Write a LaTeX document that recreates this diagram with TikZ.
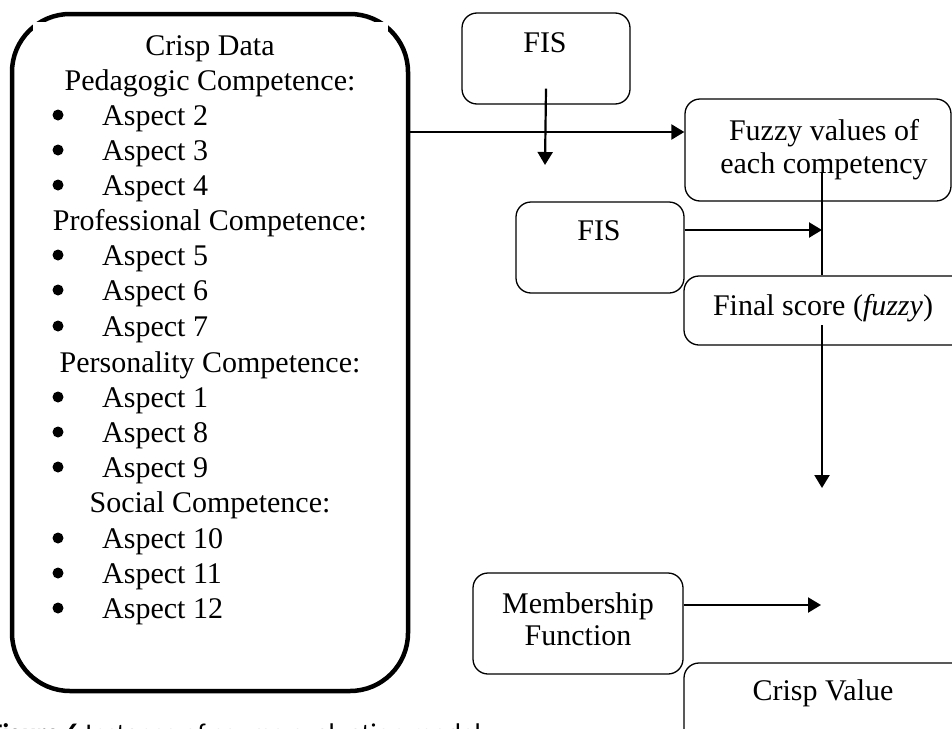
\documentclass[tikz,border=0pt]{standalone}
\usepackage{fontspec}
\setmainfont{Liberation Serif}
\newfontfamily\capfont{Carlito}
\usetikzlibrary{arrows.meta,fit,calc}
\tikzset{
  rbox/.style={draw, line width=1.3pt, rounded corners=15pt, inner sep=0pt},
  bigbox/.style={draw, line width=4.5pt, rounded corners=58pt, inner sep=0pt},
  txt/.style={anchor=base, inner sep=0pt, font=\fontsize{30pt}{35pt}\selectfont},
  bul/.style={circle, fill, inner sep=0pt, minimum size=11pt},
  asp/.style={anchor=base west, inner sep=0pt, font=\fontsize{30pt}{35pt}\selectfont},
  arr/.style={line width=2.2pt, -{Triangle[length=13pt,width=15pt]}},
  ln/.style={line width=2.2pt}
}
\begin{document}
\begin{tikzpicture}[x=1pt,y=-1pt]
\useasboundingbox (0,0) rectangle (952,728);
\begin{scope}
\clip (0,0) rectangle (952,728);
% big box
\node[bigbox, fit={(12,14) (408,691)}] (crisp) {};
\fill[white] (33,22) rectangle (388,40);
% left text
\node[txt] (t1) at (210,55) {Crisp Data};
\node[txt] (t2) at (210,90) {Pedagogic Competence:};
\node[bul] (b2) at (58,115) {};  \node[asp] (a2) at (102,125) {Aspect 2};
\node[bul] (b3) at (58,150) {};  \node[asp] (a3) at (102,160) {Aspect 3};
\node[bul] (b4) at (58,185) {};  \node[asp] (a4) at (102,195) {Aspect 4};
\node[txt] (t3) at (210,230) {Professional Competence:};
\node[bul] (b5) at (58,255) {};  \node[asp] (a5) at (102,265) {Aspect 5};
\node[bul] (b6) at (58,290) {};  \node[asp] (a6) at (102,300) {Aspect 6};
\node[bul] (b7) at (58,326) {};  \node[asp] (a7) at (102,336) {Aspect 7};
\node[txt] (t4) at (210,372) {Personality Competence:};
\node[bul] (b1) at (58,397) {};  \node[asp] (a1) at (102,407) {Aspect 1};
\node[bul] (b8) at (58,432) {};  \node[asp] (a8) at (102,442) {Aspect 8};
\node[bul] (b9) at (58,467) {};  \node[asp] (a9) at (102,477) {Aspect 9};
\node[txt] (t5) at (210,512) {Social Competence:};
\node[bul] (b10) at (58,538) {}; \node[asp] (a10) at (102,548) {Aspect 10};
\node[bul] (b11) at (58,573) {}; \node[asp] (a11) at (102,583) {Aspect 11};
\node[bul] (b12) at (58,608) {}; \node[asp] (a12) at (102,618) {Aspect 12};
% right boxes
\node[rbox, fit={(462,13) (630,104)}] (fis1) {};
\node[txt] (fis1t) at (545,52) {FIS};
\node[rbox, fit={(685,99) (951,201)}] (fuzzy) {};
\node[txt] (fz1) at (824,140) {Fuzzy values of};
\node[txt] (fz2) at (824,173) {each competency};
\node[rbox, fit={(516,202) (684,293)}] (fis2) {};
\node[txt] (fis2t) at (599,240) {FIS};
\node[rbox, fit={(684,276) (975,345)}] (final) {};
\node[txt] (fint) at (823,315) {Final score (\textit{fuzzy})};
\node[rbox, fit={(473,573) (683,674)}] (memb) {};
\node[txt] (m1) at (578,613) {Membership};
\node[txt] (m2) at (578,645) {Function};
\node[rbox, fit={(684,663) (975,770)}] (cval) {};
\node[txt] (cvt) at (823,700) {Crisp Value};
% free ends
\coordinate (h1) at (0,132);
\coordinate (c1) at (545,165);
\coordinate (c2) at (822,173);
\coordinate (c3) at (822,230);
\coordinate (c4) at (822,325);
\coordinate (c5) at (822,488);
\coordinate (c6) at (821,605);
% connectors
\draw[arr] (crisp.east |- h1) -- (fuzzy.west |- h1);
\draw[arr] ([yshift=16pt]fis1.south) -- (c1);
\draw[ln] (c2) -- (final.north -| c2);
\draw[arr] (fis2.east |- c3) -- (c3);
\draw[arr] (c4) -- (c5);
\draw[arr] (memb.east |- c6) -- (c6);
% caption (cut off by the lower edge, as in the reference)
\node[anchor=base west, inner sep=0pt, font=\capfont\fontsize{27pt}{30pt}\selectfont] (cap) at (-10,742) {\textbf{Figure 6} Instance of course evaluation model};
\end{scope}
\end{tikzpicture}
\end{document}
